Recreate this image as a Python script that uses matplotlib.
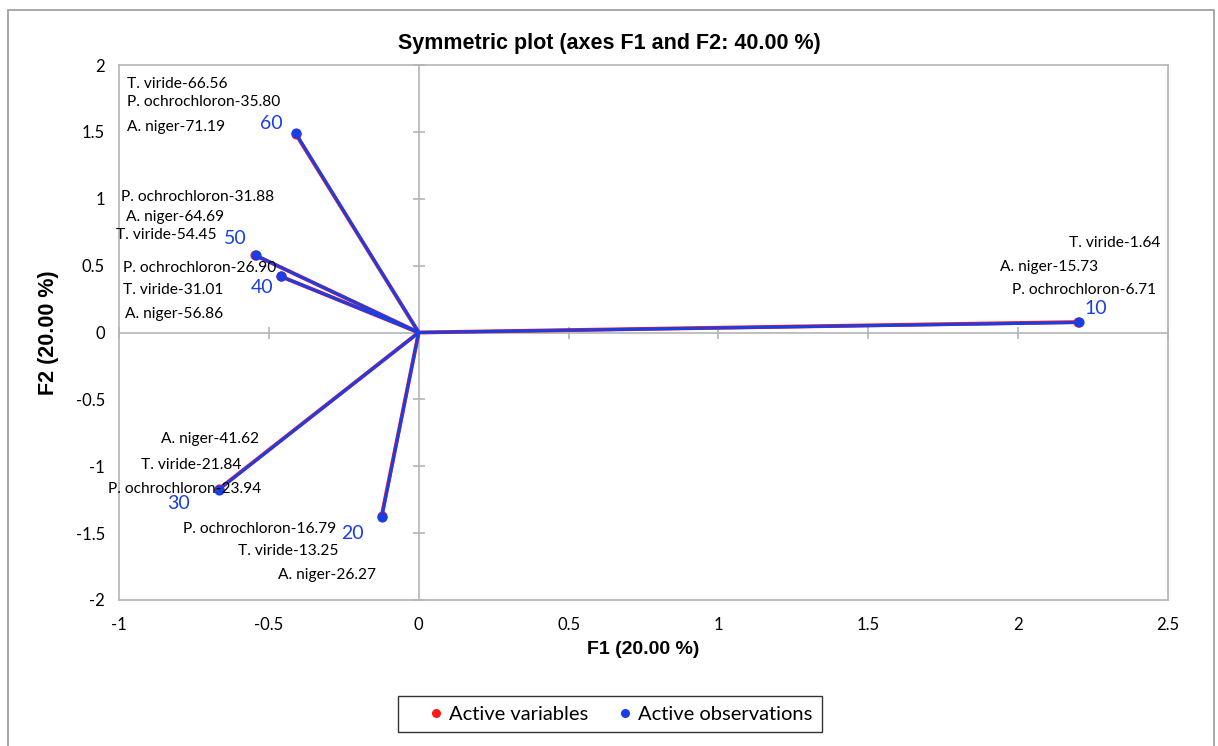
import matplotlib
matplotlib.use("Agg")
import matplotlib.pyplot as plt
from matplotlib.patches import Rectangle
from matplotlib.lines import Line2D

# observation coordinates on F1/F2 (one per temperature level)
obs_names = ["10", "20", "30", "40", "50", "60"]
obs_f1 = [2.202, -0.123, -0.667, -0.460, -0.544, -0.410]
obs_f2 = [0.075, -1.376, -1.174, 0.419, 0.576, 1.488]

# variable coordinates (nearly coincide with the observations)
var_f1 = [2.201, -0.124, -0.668, -0.461, -0.545, -0.411]
var_f2 = [0.078, -1.375, -1.173, 0.420, 0.577, 1.487]

# text labels beside each point
species_labels = [
    ("T. viride-66.56", -0.974, 1.86, "left"),
    ("P. ochrochloron-35.80", -0.974, 1.72, "left"),
    ("A. niger-71.19", -0.974, 1.54, "left"),
    ("P. ochrochloron-31.88", -0.994, 1.01, "left"),
    ("A. niger-64.69", -0.977, 0.86, "left"),
    ("T. viride-54.45", -1.011, 0.73, "left"),
    ("P. ochrochloron-26.90", -0.988, 0.48, "left"),
    ("T. viride-31.01", -0.988, 0.32, "left"),
    ("A. niger-56.86", -0.980, 0.14, "left"),
    ("A. niger-41.62", -0.861, -0.80, "left"),
    ("T. viride-21.84", -0.928, -0.99, "left"),
    ("P. ochrochloron-23.94", -1.038, -1.17, "left"),
    ("P. ochrochloron-16.79", -0.787, -1.47, "left"),
    ("T. viride-13.25", -0.604, -1.63, "left"),
    ("A. niger-26.27", -0.470, -1.81, "left"),
    ("T. viride-1.64", 2.476, 0.67, "right"),
    ("A. niger-15.73", 2.266, 0.49, "right"),
    ("P. ochrochloron-6.71", 2.459, 0.32, "right"),
]
num_pos = {"10": (2.22, 0.18), "20": (-0.26, -1.50), "30": (-0.84, -1.28),
           "40": (-0.56, 0.34), "50": (-0.65, 0.70), "60": (-0.53, 1.56)}

red = "#ff1a1a"
blue = "#1a3ee6"
grey = "#b4b4b4"

fig = plt.figure(figsize=(12.18, 7.46), dpi=100)
fig.patches.append(Rectangle((8 / 1218, -0.01), (1214 - 8) / 1218, 1 - 10 / 746 + 0.01,
                             transform=fig.transFigure, fill=False,
                             edgecolor="#999999", lw=1.2))

rect = [119 / 1218, 1 - 600 / 746, (1168 - 119) / 1218, (600 - 65) / 746]
ax = fig.add_axes(rect)
ax.set_xlim(-1, 2.5)
ax.set_ylim(-2, 2)
ax.set_xticks([-1, -0.5, 0, 0.5, 1, 1.5, 2, 2.5])
ax.set_yticks([-2, -1.5, -1, -0.5, 0, 0.5, 1, 1.5, 2])
ax.set_xticklabels(["-1", "-0.5", "0", "0.5", "1", "1.5", "2", "2.5"])
ax.set_yticklabels(["-2", "-1.5", "-1", "-0.5", "0", "0.5", "1", "1.5", "2"])
ax.tick_params(length=0, labelsize=12, pad=10)
ax.tick_params(axis="x", pad=12)
for lab in ax.get_xticklabels() + ax.get_yticklabels():
    lab.set_family("Lato")
for s in ax.spines.values():
    s.set_color(grey)
    s.set_linewidth(1.2)

# zero axes with crossing tick marks
ax2 = fig.add_axes(rect, sharex=ax, sharey=ax)
ax2.patch.set_visible(False)
for k in ["top", "right"]:
    ax2.spines[k].set_visible(False)
ax2.spines["left"].set_position(("data", 0))
ax2.spines["bottom"].set_position(("data", 0))
for k in ["left", "bottom"]:
    ax2.spines[k].set_color(grey)
    ax2.spines[k].set_linewidth(1.2)
ax2.tick_params(direction="inout", length=9, color=grey, width=1.2,
                labelleft=False, labelbottom=False)

# variables (red) under observations (blue)
for x, y in zip(var_f1, var_f2):
    ax2.plot([0, x], [0, y], color=red, lw=2.8, solid_capstyle="round", zorder=3)
ax2.scatter(var_f1, var_f2, s=40, color=red, zorder=4)
for x, y in zip(obs_f1, obs_f2):
    ax2.plot([0, x], [0, y], color=blue, lw=2.2, solid_capstyle="round", zorder=5)
ax2.scatter(obs_f1, obs_f2, s=40, color=blue, zorder=6)

for txt, x, y, ha in species_labels:
    ax2.text(x, y, txt, ha=ha, va="center", fontsize=11.2, family="Lato", color="black", zorder=7)
for name, (x, y) in num_pos.items():
    ax2.text(x, y, name, ha="left", va="center", fontsize=14, family="Lato", color=blue, zorder=7)

fig.text(0.5, 1 - 43 / 746, "Symmetric plot (axes F1 and F2: 40.00 %)", ha="center", va="center",
         fontsize=15.5, fontweight="bold", family="Liberation Sans")
ax.set_xlabel("F1 (20.00 %)", fontsize=14, fontweight="bold", family="Liberation Sans", labelpad=6)
ax.set_ylabel("F2 (20.00 %)", fontsize=15.5, fontweight="bold", family="Liberation Sans", labelpad=12)

handles = [Line2D([], [], ls="", marker="o", ms=5.5, color=red),
           Line2D([], [], ls="", marker="o", ms=5.5, color=blue)]
leg = fig.legend(handles, ["Active variables", "Active observations"], loc="center",
                 bbox_to_anchor=(610 / 1218, 1 - 714 / 746), ncol=2, frameon=True,
                 fancybox=False, edgecolor="black", prop={"family": "Lato", "size": 14.5},
                 handletextpad=-0.75, columnspacing=0.45, borderpad=0.45, borderaxespad=0,
                 handlelength=2.8)
leg.get_frame().set_linewidth(1.0)

fig.savefig("out.png", dpi=100)
